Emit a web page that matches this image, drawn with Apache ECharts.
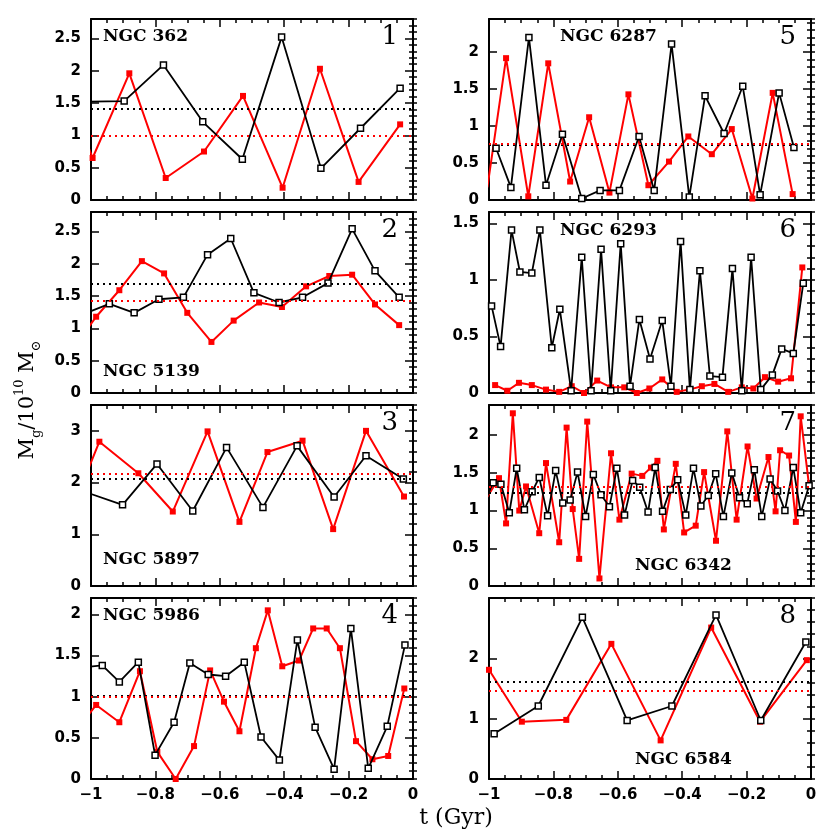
<!DOCTYPE html>
<html>
<head>
<meta charset="utf-8">
<title>Mg vs t</title>
<script src="https://cdn.jsdelivr.net/npm/echarts@6/dist/echarts.min.js"></script>
</head>
<body style="margin:0;background:#fff">
<div id="main" style="width:830px;height:830px"></div>
<script type="text/javascript">
// cluster names and panel numbers
var clusterNames = ['NGC 362', 'NGC 5139', 'NGC 5897', 'NGC 5986', 'NGC 6287', 'NGC 6293', 'NGC 6342', 'NGC 6584'];
var panelNumbers = ['1', '2', '3', '4', '5', '6', '7', '8'];

// y axis ranges / tick steps per panel
var yMax = [2.8, 2.8, 3.5, 2.2, 2.45, 1.6, 2.4, 3];
var yMajor = [0.5, 0.5, 1, 0.5, 0.5, 0.5, 0.5, 1];
var yMinor = [0.1, 0.1, 0.2, 0.1, 0.1, 0.1, 0.1, 0.2];
var xTicks = [-1, -0.8, -0.6, -0.4, -0.2, 0];

// time-averaged masses (dotted lines)
var meanBlack = [1.41, 1.69, 2.07, 1.01, 0.75, null, 1.24, 1.61];
var meanRed = [1.0, 1.43, 2.18, 1.0, 0.76, null, 1.31, 1.46];

// [t (Gyr), Mg (1e10 Msun)]
var ngc362Black = [[-1.02, 1.52], [-0.897, 1.53], [-0.775, 2.09], [-0.653, 1.21], [-0.53, 0.63], [-0.408, 2.52], [-0.286, 0.49], [-0.163, 1.11], [-0.04, 1.73]];
var ngc362Red = [[-1.1, 2.0], [-0.995, 0.65], [-0.881, 1.96], [-0.768, 0.34], [-0.649, 0.75], [-0.528, 1.61], [-0.405, 0.19], [-0.289, 2.03], [-0.169, 0.28], [-0.04, 1.17]];

var ngc5139Black = [[-1.018, 1.23], [-0.943, 1.38], [-0.866, 1.24], [-0.789, 1.45], [-0.713, 1.48], [-0.638, 2.14], [-0.566, 2.39], [-0.494, 1.55], [-0.416, 1.40], [-0.343, 1.48], [-0.264, 1.70], [-0.189, 2.54], [-0.118, 1.89], [-0.043, 1.48]];
var ngc5139Red = [[-1.055, 0.69], [-0.984, 1.18], [-0.912, 1.59], [-0.842, 2.04], [-0.773, 1.85], [-0.701, 1.24], [-0.626, 0.79], [-0.557, 1.12], [-0.478, 1.40], [-0.407, 1.33], [-0.332, 1.65], [-0.26, 1.81], [-0.189, 1.83], [-0.118, 1.37], [-0.043, 1.05]];

var ngc5897Black = [[-1.01, 1.80], [-0.902, 1.57], [-0.795, 2.36], [-0.684, 1.45], [-0.579, 2.68], [-0.466, 1.52], [-0.36, 2.71], [-0.245, 1.72], [-0.146, 2.52], [-0.03, 2.07]];
var ngc5897Red = [[-1.07, 1.31], [-0.974, 2.79], [-0.853, 2.18], [-0.746, 1.44], [-0.638, 2.99], [-0.539, 1.24], [-0.452, 2.59], [-0.343, 2.81], [-0.248, 1.10], [-0.146, 3.0], [-0.028, 1.73]];

var ngc5986Black = [[-1.02, 1.36], [-0.965, 1.38], [-0.912, 1.18], [-0.853, 1.42], [-0.801, 0.29], [-0.742, 0.69], [-0.693, 1.41], [-0.636, 1.27], [-0.582, 1.25], [-0.524, 1.42], [-0.472, 0.51], [-0.415, 0.23], [-0.359, 1.69], [-0.304, 0.63], [-0.245, 0.12], [-0.193, 1.83], [-0.139, 0.13], [-0.08, 0.64], [-0.025, 1.63]];
var ngc5986Red = [[-1.04, 0.62], [-0.984, 0.90], [-0.912, 0.69], [-0.848, 1.31], [-0.794, 0.33], [-0.737, 0.0], [-0.68, 0.40], [-0.63, 1.32], [-0.587, 0.94], [-0.539, 0.58], [-0.488, 1.59], [-0.451, 2.05], [-0.406, 1.37], [-0.354, 1.44], [-0.31, 1.83], [-0.268, 1.83], [-0.227, 1.59], [-0.177, 0.46], [-0.126, 0.24], [-0.077, 0.28], [-0.027, 1.10]];

var ngc6287Black = [[-0.978, 0.70], [-0.932, 0.17], [-0.876, 2.20], [-0.823, 0.20], [-0.772, 0.89], [-0.712, 0.02], [-0.655, 0.13], [-0.595, 0.13], [-0.534, 0.86], [-0.487, 0.13], [-0.433, 2.11], [-0.378, 0.04], [-0.329, 1.41], [-0.27, 0.90], [-0.212, 1.54], [-0.158, 0.07], [-0.099, 1.45], [-0.053, 0.71]];
var ngc6287Red = [[-1.005, 0.17], [-0.947, 1.92], [-0.878, 0.05], [-0.816, 1.85], [-0.748, 0.25], [-0.689, 1.12], [-0.626, 0.10], [-0.567, 1.43], [-0.505, 0.20], [-0.441, 0.52], [-0.381, 0.86], [-0.308, 0.62], [-0.246, 0.96], [-0.182, 0.02], [-0.119, 1.45], [-0.057, 0.08]];

var ngc6293Black = [[-0.992, 0.77], [-0.964, 0.41], [-0.930, 1.44], [-0.904, 1.07], [-0.867, 1.06], [-0.842, 1.44], [-0.805, 0.40], [-0.780, 0.74], [-0.745, 0.02], [-0.712, 1.20], [-0.683, 0.02], [-0.652, 1.27], [-0.622, 0.02], [-0.591, 1.32], [-0.562, 0.06], [-0.533, 0.65], [-0.500, 0.30], [-0.462, 0.64], [-0.435, 0.06], [-0.405, 1.34], [-0.376, 0.03], [-0.345, 1.08], [-0.314, 0.15], [-0.275, 0.14], [-0.244, 1.10], [-0.215, 0.02], [-0.186, 1.20], [-0.156, 0.03], [-0.120, 0.16], [-0.091, 0.39], [-0.055, 0.35], [-0.024, 0.97]];
var ngc6293Red = [[-0.981, 0.07], [-0.943, 0.02], [-0.907, 0.09], [-0.867, 0.07], [-0.823, 0.03], [-0.782, 0.01], [-0.743, 0.06], [-0.705, 0.0], [-0.664, 0.11], [-0.621, 0.05], [-0.580, 0.05], [-0.541, 0.0], [-0.502, 0.04], [-0.462, 0.12], [-0.417, 0.01], [-0.379, 0.03], [-0.339, 0.06], [-0.300, 0.08], [-0.257, 0.01], [-0.215, 0.05], [-0.179, 0.04], [-0.143, 0.14], [-0.102, 0.10], [-0.062, 0.13], [-0.027, 1.11]];

var ngc6342Black = [[-1.01, 1.15], [-0.987, 1.37], [-0.963, 1.35], [-0.937, 0.97], [-0.914, 1.56], [-0.890, 1.01], [-0.866, 1.25], [-0.844, 1.44], [-0.818, 0.93], [-0.793, 1.53], [-0.771, 1.10], [-0.748, 1.14], [-0.725, 1.51], [-0.700, 0.92], [-0.676, 1.48], [-0.652, 1.21], [-0.626, 1.05], [-0.603, 1.56], [-0.579, 0.94], [-0.554, 1.40], [-0.532, 1.31], [-0.506, 0.98], [-0.484, 1.57], [-0.461, 0.99], [-0.437, 1.28], [-0.414, 1.41], [-0.389, 0.94], [-0.365, 1.56], [-0.342, 1.06], [-0.319, 1.20], [-0.296, 1.49], [-0.272, 0.92], [-0.246, 1.50], [-0.222, 1.17], [-0.198, 1.09], [-0.176, 1.54], [-0.153, 0.92], [-0.127, 1.42], [-0.104, 1.26], [-0.081, 1.00], [-0.055, 1.57], [-0.032, 0.97], [-0.006, 1.33]];
var ngc6342Red = [[-1.01, 1.15], [-0.969, 1.43], [-0.947, 0.83], [-0.926, 2.29], [-0.906, 1.00], [-0.885, 1.32], [-0.844, 0.70], [-0.823, 1.63], [-0.782, 0.58], [-0.759, 2.10], [-0.740, 1.02], [-0.720, 0.36], [-0.695, 2.18], [-0.657, 0.10], [-0.621, 1.76], [-0.595, 0.88], [-0.557, 1.49], [-0.524, 1.46], [-0.497, 1.57], [-0.477, 1.66], [-0.457, 0.75], [-0.420, 1.62], [-0.394, 0.71], [-0.358, 0.80], [-0.332, 1.51], [-0.295, 0.60], [-0.260, 2.05], [-0.231, 0.88], [-0.197, 1.85], [-0.169, 1.16], [-0.132, 1.71], [-0.110, 0.99], [-0.096, 1.80], [-0.068, 1.73], [-0.047, 0.85], [-0.032, 2.25], [-0.006, 1.33]];

var ngc6584Black = [[-0.984, 0.75], [-0.847, 1.21], [-0.71, 2.68], [-0.571, 0.97], [-0.432, 1.21], [-0.295, 2.72], [-0.156, 0.97], [-0.016, 2.27]];
var ngc6584Red = [[-1.0, 1.81], [-0.898, 0.95], [-0.76, 0.98], [-0.62, 2.24], [-0.467, 0.64], [-0.31, 2.51], [-0.158, 0.95], [-0.013, 1.97]];

var blackSets = [ngc362Black, ngc5139Black, ngc5897Black, ngc5986Black, ngc6287Black, ngc6293Black, ngc6342Black, ngc6584Black];
var redSets = [ngc362Red, ngc5139Red, ngc5897Red, ngc5986Red, ngc6287Red, ngc6293Red, ngc6342Red, ngc6584Red];

var myChart = echarts.init(document.getElementById('main'));

var lefts = [91, 489];
var tops = [19, 212, 405, 598];
var W = 322, H = 181;
// where the cluster name sits: [dx from grid left, dy from grid top]
var namePos = [[12, 19], [12, 161], [12, 156], [12, 19], [71, 19], [71, 20], [146, 162], [146, 163]];

var tickFont = { fontFamily: 'DejaVu Sans', fontWeight: 'bold', fontSize: 15, color: '#000' };
var grids = [], xAxes = [], yAxes = [], series = [], graphics = [];

function yFmt(v) {
    return String(+v.toFixed(2));
}
function xFmt(v) {
    if (Math.abs(v) < 1e-9) return '0';
    if (Math.abs(v + 1) < 1e-9) return '\u22121';
    return '\u2212' + (-v).toFixed(1);
}

for (var i = 0; i < 8; i++) {
    var col = i < 4 ? 0 : 1, row = i % 4;
    var gl = lefts[col], gt = tops[row];
    grids.push({ left: gl, top: gt, width: W, height: H });

    var lineCfg = { onZero: false, lineStyle: { color: '#000', width: 2 } };
    var tickCfg = { inside: true, length: 8, lineStyle: { color: '#000', width: 1.5 } };
    ['bottom', 'top'].forEach(function (pos) {
        xAxes.push({
            gridIndex: i, type: 'value', position: pos,
            min: -1, max: 0, interval: 0.2,
            axisLine: lineCfg, axisTick: tickCfg,
            minorTick: { show: true, splitNumber: 4, length: 4, lineStyle: { color: '#000', width: 1.5 } },
            splitLine: { show: false },
            axisLabel: (pos === 'bottom' && row === 3) ?
                Object.assign({ show: true, margin: 9, formatter: xFmt }, tickFont) : { show: false }
        });
    });
    ['left', 'right'].forEach(function (pos) {
        // major ticks
        yAxes.push({
            gridIndex: i, type: 'value', position: pos,
            min: 0, max: yMax[i], interval: yMajor[i],
            axisLine: lineCfg, axisTick: tickCfg, splitLine: { show: false },
            axisLabel: pos === 'left' ?
                Object.assign({ show: true, margin: 10, showMaxLabel: false, formatter: yFmt }, tickFont) : { show: false }
        });
        // minor ticks
        yAxes.push({
            gridIndex: i, type: 'value', position: pos,
            min: 0, max: yMax[i], interval: yMinor[i],
            axisLine: { show: false },
            axisTick: { inside: true, length: 4, lineStyle: { color: '#000', width: 1.5 } },
            splitLine: { show: false }, axisLabel: { show: false }
        });
    });

    var mkBlack = meanBlack[i] == null ? undefined : {
        silent: true, symbol: 'none', label: { show: false },
        lineStyle: { color: '#000', type: [2, 4], width: 2 },
        data: [{ yAxis: meanBlack[i] }]
    };
    var mkRed = meanRed[i] == null ? undefined : {
        silent: true, symbol: 'none', label: { show: false },
        lineStyle: { color: '#ff0000', type: [2, 4], width: 2 },
        data: [{ yAxis: meanRed[i] }]
    };

    series.push({
        type: 'line', xAxisIndex: 2 * i, yAxisIndex: 4 * i,
        data: blackSets[i], clip: true, z: 3,
        symbol: 'rect', symbolSize: 6, showAllSymbol: true,
        lineStyle: { color: '#000', width: 1.8 },
        itemStyle: { color: '#fff', borderColor: '#000', borderWidth: 1.5 },
        markLine: mkBlack
    });
    series.push({
        type: 'line', xAxisIndex: 2 * i, yAxisIndex: 4 * i,
        data: redSets[i], clip: true, z: 2,
        symbol: 'rect', symbolSize: 6, showAllSymbol: true,
        lineStyle: { color: '#ff0000', width: 2 },
        itemStyle: { color: '#ff0000' },
        markLine: mkRed
    });

    graphics.push({
        type: 'text', left: gl + namePos[i][0], top: gt + namePos[i][1] - 10, z: 10,
        style: { text: clusterNames[i], fontFamily: 'DejaVu Serif', fontWeight: 'bold', fontSize: 17, fill: '#000' }
    });
    graphics.push({
        type: 'text', right: 830 - (gl + W - 15), top: gt + 5, z: 10,
        style: { text: panelNumbers[i], fontFamily: 'DejaVu Serif', fontSize: 26, fill: '#000' }
    });
}

// axis titles
graphics.push({
    type: 'text', x: 456, y: 818, z: 10,
    style: {
        text: 't (Gyr)', fontFamily: 'DejaVu Serif', fontSize: 22, fill: '#000',
        textAlign: 'center', textVerticalAlign: 'middle'
    }
});
graphics.push({
    type: 'text', x: 28, y: 400, rotation: Math.PI / 2, z: 10,
    style: {
        text: '{m|M}{sub|g}{m|/10}{sup|10}{m| M}{sub|\u2299}',
        textAlign: 'center', textVerticalAlign: 'middle', fill: '#000',
        rich: {
            m: { fontFamily: 'DejaVu Serif', fontSize: 21, lineHeight: 30, verticalAlign: 'middle' },
            sub: { fontFamily: 'DejaVu Serif', fontSize: 13, lineHeight: 14, verticalAlign: 'bottom' },
            sup: { fontFamily: 'DejaVu Serif', fontSize: 13, lineHeight: 14, verticalAlign: 'top' }
        }
    }
});

var option = {
    animation: false,
    backgroundColor: '#fff',
    grid: grids,
    xAxis: xAxes,
    yAxis: yAxes,
    series: series,
    graphic: graphics
};
myChart.setOption(option);
</script>
</body>
</html>
